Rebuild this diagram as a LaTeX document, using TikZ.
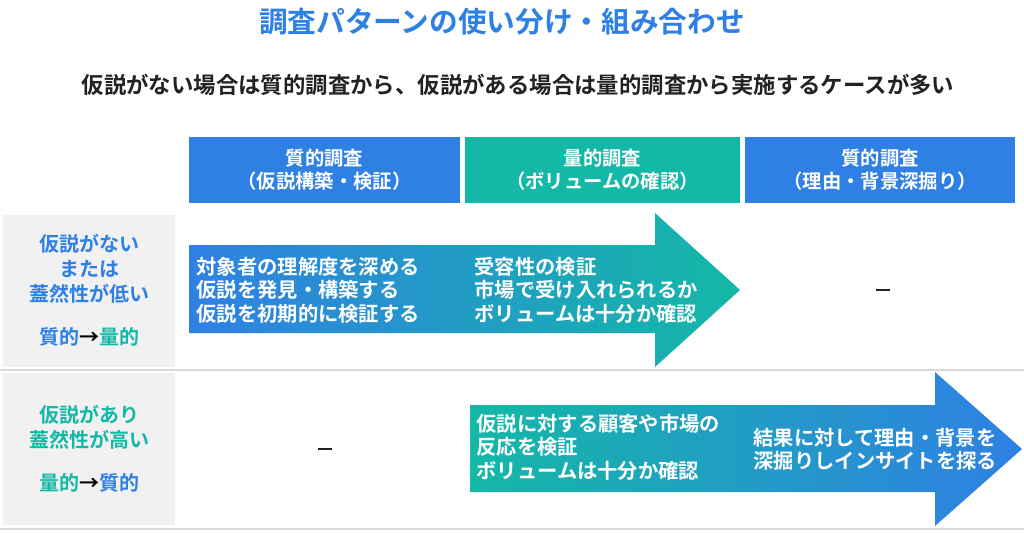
\documentclass[tikz,border=0pt]{standalone}
\usepackage{fontspec}
\newfontfamily\jp{Noto Sans CJK JP Bold}
\definecolor{cblue}{HTML}{2F80E4}
\definecolor{cteal}{HTML}{14B8A6}
\definecolor{cgray}{HTML}{F1F1F1}
\definecolor{ctext}{HTML}{222222}
\begin{document}
\begin{tikzpicture}[x=0.75pt,y=-0.75pt,font=\jp,
  hdr/.style={minimum width=#1*0.75pt,minimum height=49.5pt,text=white,align=center,font=\jp\fontsize{14.5}{17}\selectfont},
  cell/.style={fill=cgray,minimum width=129pt,minimum height=114pt,align=center,font=\jp\fontsize{15}{18.5}\selectfont},
  atxt/.style={text=white,align=left,anchor=west,font=\jp\fontsize{15.2}{17.5}\selectfont}]
\useasboundingbox (0,0) rectangle (1024,532);
\fill[white] (0,0) rectangle (1024,532);
\node (title) at (502,22) {\fontsize{21.5}{24}\selectfont\color{cblue}調査パターンの使い分け・組み合わせ};
\node (sub) at (518,85) {\fontsize{16.8}{19}\selectfont\color{ctext}仮説がない場合は質的調査から、仮説がある場合は量的調査から実施するケースが多い};
\node[hdr=271,fill=cblue] (h1) at (324.5,170) {質的調査\\（仮説構築・検証）};
\node[hdr=275,fill=cteal] (h2) at (602.5,170) {量的調査\\（ボリュームの確認）};
\node[hdr=270,fill=cblue] (h3) at (880,170) {質的調査\\（理由・背景深掘り）};
\node[cell] (c1) at (89,290.5) {\color{cblue}仮説がない\\\color{cblue}または\\\color{cblue}蓋然性が低い\\[14pt]{\color{cblue}質的}→{\color{cteal}量的}};
\node[cell] (c2) at (89,449) {\color{cteal}仮説があり\\\color{cteal}蓋然性が高い\\[14pt]{\color{cteal}量的}→{\color{cblue}質的}};
\draw[black!15,line width=1pt] (0,370) -- (1024,370);
\draw[black!15,line width=1pt] (0,529) -- (1024,529);
\shade[left color=cblue,right color=cteal] (189,245) -- (655,245) -- (655,213) -- (740,290) -- (655,367) -- (655,333) -- (189,333) -- cycle;
\shade[left color=cteal,right color=cblue] (470,405) -- (935,405) -- (935,372) -- (1022,449) -- (935,526) -- (935,492) -- (470,492) -- cycle;
\node[atxt] (a1) at (192,290) {対象者の理解度を深める\\仮説を発見・構築する\\仮説を初期的に検証する};
\node[atxt] (a2) at (470,290) {受容性の検証\\市場で受け入れられるか\\ボリュームは十分か確認};
\node[atxt] (b1) at (472,447) {仮説に対する顧客や市場の\\反応を検証\\ボリュームは十分か確認};
\node[atxt] (b2) at (749,449) {結果に対して理由・背景を\\深掘りしインサイトを探る};
\draw[ctext,line width=1.6pt] (876,290) coordinate (d1a) -- (890,290) coordinate (d1b);
\draw[ctext,line width=1.6pt] (318,449) coordinate (d2a) -- (332,449) coordinate (d2b);
\end{tikzpicture}
\end{document}
